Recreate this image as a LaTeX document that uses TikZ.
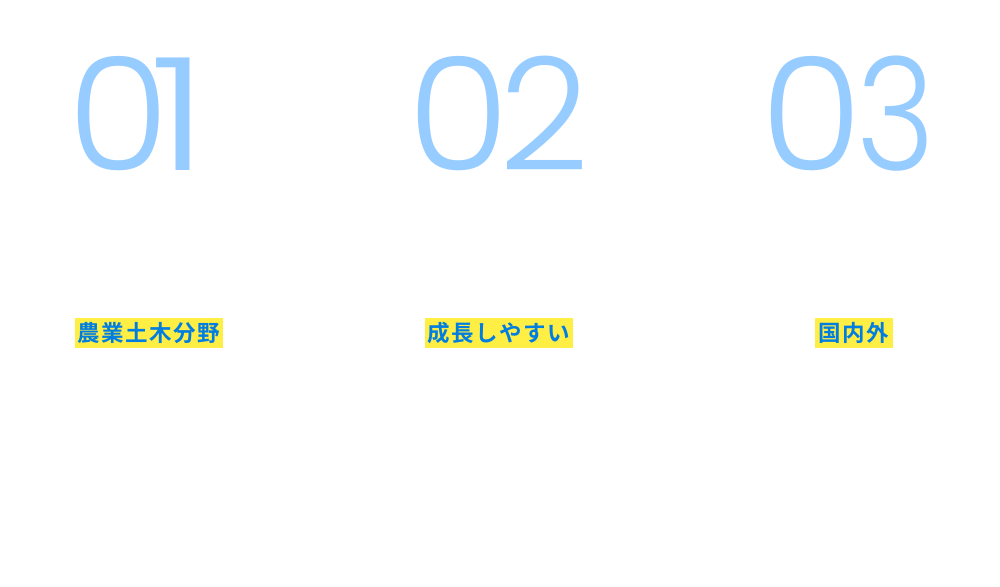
\documentclass[tikz,border=0pt]{standalone}
\usepackage{fontspec}
\usepackage{graphicx}
\newfontfamily\numfont{Poppins Light}
\newfontfamily\jpfont[LetterSpace=7]{Noto Sans CJK JP Bold}
\definecolor{numblue}{RGB}{150,204,255}
\definecolor{txtblue}{RGB}{0,125,225}
\definecolor{hlyellow}{RGB}{255,238,68}
\newcommand\wz{\scalebox{1.06}[1]{0}}
\begin{document}
\begin{tikzpicture}[x=1pt,y=-1pt,
  numstyle/.style={inner sep=0pt, text=numblue, font=\numfont\fontsize{157}{157}\selectfont},
  hlbox/.style={fill=hlyellow, inner sep=0pt, minimum height=30pt, text=txtblue, font=\jpfont\fontsize{22.5}{26}\selectfont}]
\useasboundingbox (0,0) rectangle (1000,586);
\node[numstyle, anchor=base west] (n1) at (67,170) {\wz\kern-19pt\scalebox{1.25}[1]{1}};
\node[numstyle, anchor=base west] (n2) at (407,170) {\wz\kern-10pt 2};
\node[numstyle, anchor=base west] (n3) at (760,170) {\wz\kern-6pt\scalebox{0.86}[1]{3}};
\node[hlbox, minimum width=148pt] (t1) at (149,333) {農業土木分野};
\node[hlbox, minimum width=148pt] (t2) at (499,333) {成長しやすい};
\node[hlbox, minimum width=78pt] (t3) at (854,333) {国内外};
\end{tikzpicture}
\end{document}
